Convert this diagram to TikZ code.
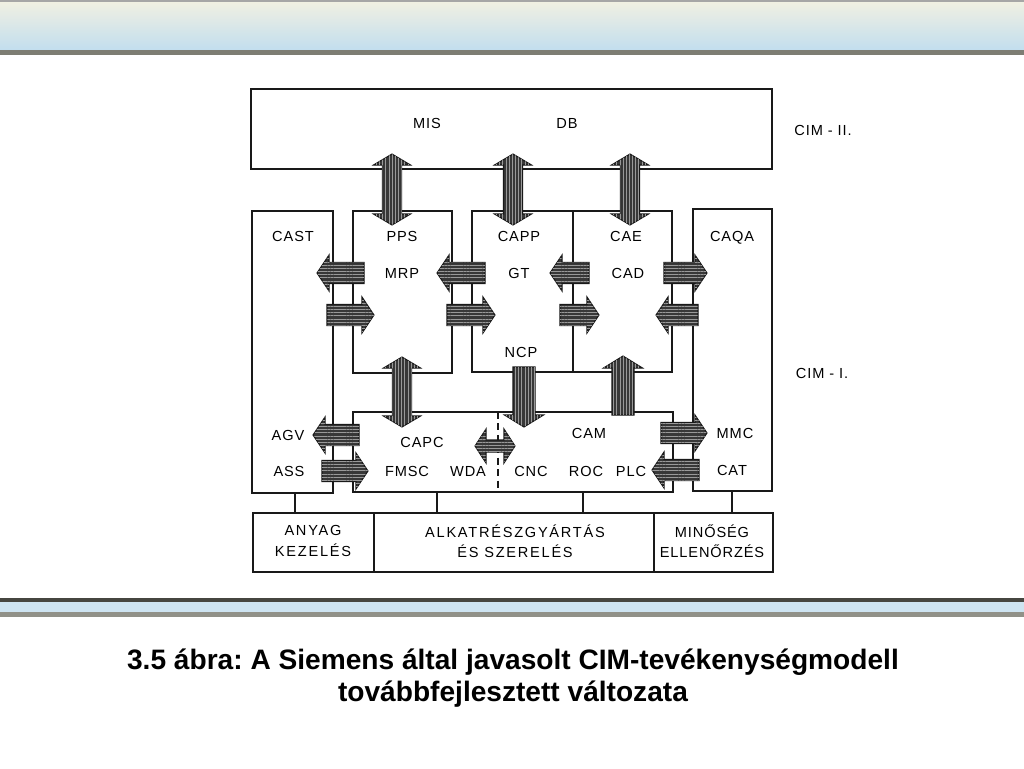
\documentclass[tikz,border=0pt]{standalone}
\usepackage{fontspec}
\setmainfont{Liberation Sans}
\newfontfamily\diafont[LetterSpace=6]{Liberation Sans}
\newfontfamily\widefont[LetterSpace=12]{Liberation Sans}
\usetikzlibrary{patterns.meta}
\frenchspacing

\definecolor{bandcream}{RGB}{241,240,226}
\definecolor{bandblue}{RGB}{194,222,238}
\definecolor{bandline}{RGB}{125,125,115}
\definecolor{bandshadow}{RGB}{70,70,64}
\definecolor{inkline}{RGB}{25,25,25}

% block arrows, all in pixel units: (position across, from, to)
\newcommand{\hblock}[3]{%
  \pgfmathsetmacro{\hdx}{#3-12*sign(#3-#2)}
  \path[harrow] ({#2},{#1-10.5}) -- (\hdx,{#1-10.5}) -- (\hdx,{#1-18}) -- ({#3},{#1})
    -- (\hdx,{#1+18}) -- (\hdx,{#1+10.5}) -- ({#2},{#1+10.5}) -- cycle;
}
\newcommand{\vblock}[3]{%
  \pgfmathsetmacro{\hdy}{#3-12*sign(#3-#2)}
  \path[varrow] ({#1-11},{#2}) -- ({#1-11},\hdy) -- ({#1-19.5},\hdy) -- ({#1},{#3})
    -- ({#1+19.5},\hdy) -- ({#1+11},\hdy) -- ({#1+11},{#2}) -- cycle;
}
\newcommand{\vdouble}[3]{%
  \path[varrow] ({#1},{#2}) -- ({#1+18.5},{#2+11}) -- ({#1+9.5},{#2+11}) -- ({#1+9.5},{#3-11})
    -- ({#1+18.5},{#3-11}) -- ({#1},{#3}) -- ({#1-18.5},{#3-11}) -- ({#1-9.5},{#3-11})
    -- ({#1-9.5},{#2+11}) -- ({#1-18.5},{#2+11}) -- cycle;
}
\newcommand{\hdouble}[3]{%
  \path[harrow] ({#2},{#1}) -- ({#2+11},{#1-17}) -- ({#2+11},{#1-6}) -- ({#3-11},{#1-6})
    -- ({#3-11},{#1-17}) -- ({#3},{#1}) -- ({#3-11},{#1+17}) -- ({#3-11},{#1+6})
    -- ({#2+11},{#1+6}) -- ({#2+11},{#1+17}) -- cycle;
}

\begin{document}
\begin{tikzpicture}[x=0.02cm, y=-0.02cm,
  box/.style={draw=inkline, line width=1pt},
  lbl/.style={font=\diafont\fontsize{8.3}{10}\selectfont, inner sep=0pt, text height=6pt, text depth=0pt},
  wide/.style={font=\widefont\fontsize{8.3}{10.5}\selectfont, inner sep=0pt, align=center},
  arrowbase/.style={draw=inkline, line width=0.6pt, fill=black!78},
  harrow/.style={arrowbase, postaction={pattern={Lines[angle=0,distance=1.8pt,line width=0.4pt]}, pattern color=black!40}},
  varrow/.style={arrowbase, postaction={pattern={Lines[angle=90,distance=1.8pt,line width=0.4pt]}, pattern color=black!40}}]
\useasboundingbox (0,0) rectangle (1024,768);

% slide bands
\shade[top color=bandcream, bottom color=bandblue] (0,1) rectangle (1024,50);
\fill[black!35] (0,0) rectangle (1024,1.5);
\fill[bandline] (0,50) rectangle (1024,55);
\fill[bandshadow] (0,598) rectangle (1024,602);
\fill[bandblue!80!white] (0,602) rectangle (1024,612);
\fill[bandline!85!white] (0,612) rectangle (1024,617);

% CIM-II level
\draw[box] (251,89) rectangle (772,169);
\node[lbl] (mis) at (427,123) {MIS};
\node[lbl] (db) at (567,123) {DB};
\node[lbl] (cim2) at (823,130) {CIM - II.};

% CIM-I level, upper boxes
\draw[box] (252,211) rectangle (333,493);
\draw[box] (353,211) rectangle (452,373);
\draw[box] (472,211) rectangle (672,372);
\draw[box] (573,211) -- (573,372);
\draw[box] (693,209) rectangle (772,491);
\node[lbl] (cast) at (293,236) {CAST};
\node[lbl] (pps) at (402,236) {PPS};
\node[lbl] (capp) at (519,236) {CAPP};
\node[lbl] (cae) at (626,236) {CAE};
\node[lbl] (caqa) at (732,236) {CAQA};
\node[lbl] (mrp) at (402,273) {MRP};
\node[lbl] (gt) at (519,273) {GT};
\node[lbl] (cad) at (628,273) {CAD};
\node[lbl] (ncp) at (521,352) {NCP};
\node[lbl] (cim1) at (822,373) {CIM - I.};

% shop floor box
\draw[box] (353,412) rectangle (673,492);
\draw[box, dash pattern=on 4pt off 2.5pt] (498,412) -- (498,492);
\node[lbl] (capc) at (422,442) {CAPC};
\node[lbl] (cam) at (589,433) {CAM};
\node[lbl] (agv) at (288,435) {AGV};
\node[lbl] (ass) at (289,471) {ASS};
\node[lbl] (fmsc) at (407,471) {FMSC};
\node[lbl] (wda) at (468,471) {WDA};
\node[lbl] (cnc) at (531,471) {CNC};
\node[lbl] (roc) at (586,471) {ROC};
\node[lbl] (plc) at (631,471) {PLC};
\node[lbl] (mmc) at (735,433) {MMC};
\node[lbl] (cat) at (732,470) {CAT};

% function row
\draw[box] (253,513) rectangle (773,572);
\draw[box] (374,513) -- (374,572);
\draw[box] (654,513) -- (654,572);
\foreach \cx/\ty/\by in {295/493/513, 437/492/513, 583/492/513, 732/491/513}
  \draw[box] (\cx,\ty) -- (\cx,\by);
\node[wide] (anyag) at (313,541) {ANYAG\\[1pt]KEZELÉS};
\node[wide] (alkat) at (515,541) {ALKATRÉSZGYÁRTÁS\\[1pt]ÉS SZERELÉS};
\node[wide, font=\diafont\fontsize{8.3}{10.5}\selectfont] (minoseg) at (712,541) {MINŐSÉG\\[1pt]ELLENŐRZÉS};

% data flow arrows
\foreach \ax in {392,513,630}
  \vdouble{\ax}{154}{225};
\hblock{273}{364}{317}
\hblock{273}{485}{437}
\hblock{273}{589}{550}
\hblock{273}{664}{707}
\hblock{315}{327}{374}
\hblock{315}{447}{495}
\hblock{315}{560}{599}
\hblock{315}{698}{656}
\vdouble{402}{357}{427}
\vblock{524}{367}{427}
\vblock{623}{415}{356}
\hblock{435}{359}{313}
\hblock{471}{322}{368}
\hdouble{446}{475}{515}
\hblock{433}{661}{707}
\hblock{470}{699}{652}

% caption
\node[font=\bfseries\fontsize{16}{18.1}\selectfont, align=center] (caption) at (513,678)
  {3.5 ábra: A Siemens által javasolt CIM-tevékenységmodell\\továbbfejlesztett változata};
\end{tikzpicture}
\end{document}
